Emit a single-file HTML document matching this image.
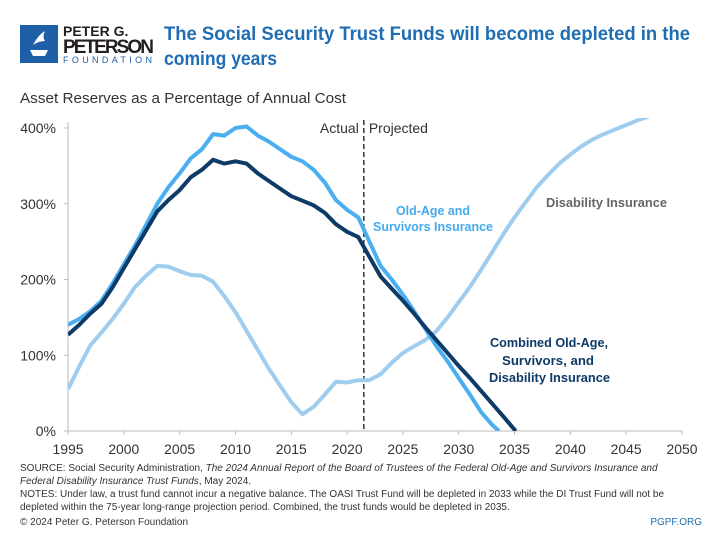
<!DOCTYPE html>
<html><head><meta charset="utf-8"><style>
body{margin:0;background:#fff;font-family:"Liberation Sans",sans-serif;}
#wrap{position:relative;width:720px;height:540px;overflow:hidden;}
</style></head><body>
<div id="wrap">
<svg width="720" height="540" viewBox="0 0 720 540">
  <g>
    <rect x="20" y="25" width="38" height="38" fill="#1f5fa8"/>
    <path d="M30 50 h18 l-3 6 h-12 z M33 45 q5 -10 12 -14 q-3 6 0 10 q-6 0 -12 4z" fill="#fff"/>
    <text x="63" y="36" font-size="14" font-weight="bold" fill="#231f20">PETER G.</text>
    <text x="63" y="53" font-size="19" font-weight="bold" fill="#231f20" textLength="91">PETERSON</text>
    <text x="63" y="63" font-size="9" fill="#1f5fa8" textLength="91" letter-spacing="2">FOUNDATION</text>
  </g>
  <text x="164" y="40" font-size="19" font-weight="bold" fill="#1f6db3" textLength="526" lengthAdjust="spacingAndGlyphs">The Social Security Trust Funds will become depleted in the</text>
  <text x="164" y="65" font-size="19" font-weight="bold" fill="#1f6db3" textLength="113" lengthAdjust="spacingAndGlyphs">coming years</text>
  <text x="20" y="103" font-size="15" fill="#333" textLength="326" lengthAdjust="spacingAndGlyphs">Asset Reserves as a Percentage of Annual Cost</text>
  <g id="axes"></g>
  <g id="marks"></g>
  <text x="546" y="207" font-size="13" font-weight="bold" fill="#666" textLength="121" lengthAdjust="spacingAndGlyphs">Disability Insurance</text>
  <text x="396" y="215" font-size="13" font-weight="bold" fill="#44aaee" textLength="74" lengthAdjust="spacingAndGlyphs">Old-Age and</text>
  <text x="373" y="231" font-size="13" font-weight="bold" fill="#44aaee" textLength="120" lengthAdjust="spacingAndGlyphs">Survivors Insurance</text>
  <text x="490" y="347" font-size="13" font-weight="bold" fill="#0d3a66" textLength="118" lengthAdjust="spacingAndGlyphs">Combined Old-Age,</text>
  <text x="502" y="365" font-size="13" font-weight="bold" fill="#0d3a66" textLength="92" lengthAdjust="spacingAndGlyphs">Survivors, and</text>
  <text x="489" y="382" font-size="13" font-weight="bold" fill="#0d3a66" textLength="121" lengthAdjust="spacingAndGlyphs">Disability Insurance</text>
  <text x="20" y="471" font-size="10" fill="#333">SOURCE: Social Security Administration, <tspan font-style="italic">The 2024 Annual Report of the Board of Trustees of the Federal Old-Age and Survivors Insurance and</tspan></text>
  <text x="20" y="484" font-size="10" fill="#333"><tspan font-style="italic">Federal Disability Insurance Trust Funds</tspan>, May 2024.</text>
  <text x="20" y="497" font-size="10" fill="#333">NOTES: Under law, a trust fund cannot incur a negative balance. The OASI Trust Fund will be depleted in 2033 while the DI Trust Fund will not be</text>
  <text x="20" y="510" font-size="10" fill="#333">depleted within the 75-year long-range projection period. Combined, the trust funds would be depleted in 2035.</text>
  <text x="20" y="525" font-size="10" fill="#333">© 2024 Peter G. Peterson Foundation</text>
  <text x="702" y="525" font-size="10" fill="#1f6db3" text-anchor="end">PGPF.ORG</text>
</svg>
</div>
<script>
const xTicks=[1995,2000,2005,2010,2015,2020,2025,2030,2035,2040,2045,2050];
const yTicks=[0,100,200,300,400];
const oasiYears=[1995,1996,1997,1998,1999,2000,2001,2002,2003,2004,2005,2006,2007,2008,2009,2010,2011,2012,2013,2014,2015,2016,2017,2018,2019,2020,2021,2022,2023,2024,2025,2026,2027,2028,2029,2030,2031,2032,2033,2033.6];
const oasiVals=[140,148,158,172,195,220,245,272,300,322,340,360,372,392,390,400,402,390,382,372,362,356,345,328,305,292,282,250,218,200,180,158,135,112,92,70,48,25,8,0];
const combYears=[1995,1996,1997,1998,1999,2000,2001,2002,2003,2004,2005,2006,2007,2008,2009,2010,2011,2012,2013,2014,2015,2016,2017,2018,2019,2020,2021,2022,2023,2024,2025,2026,2027,2028,2029,2030,2031,2032,2033,2034,2035.1];
const combVals=[127,140,155,168,190,215,240,265,290,305,318,335,345,358,353,356,353,340,330,320,310,304,298,288,273,263,256,230,204,188,172,155,137,120,103,86,70,53,36,19,0];
const diYears=[1995,1996,1997,1998,1999,2000,2001,2002,2003,2004,2005,2006,2007,2008,2009,2010,2011,2012,2013,2014,2015,2016,2017,2018,2019,2020,2021,2022,2023,2024,2025,2026,2027,2028,2029,2030,2031,2032,2033,2034,2035,2036,2037,2038,2039,2040,2041,2042,2043,2044,2045,2046,2047];
const diVals=[55,85,113,130,148,168,190,205,218,217,211,206,205,197,178,157,132,107,82,60,38,22,32,48,65,64,67,67,75,90,103,112,120,132,150,170,190,213,236,260,282,302,322,338,353,365,376,385,392,398,404,410,415];
const X0=68,X1=682,Y0=431,Y1=128;
const x=v=>X0+(v-1995)/(2050-1995)*(X1-X0);
const y=v=>Y0-(v/400)*(Y0-Y1);
const NS="http://www.w3.org/2000/svg";
const axes=document.getElementById('axes'),marks=document.getElementById('marks');
function mk(tag,attrs,parent){const e=document.createElementNS(NS,tag);for(const k in attrs)e.setAttribute(k,attrs[k]);parent.appendChild(e);return e;}
let l=mk('line',{x1:X0,y1:Y0,x2:X1,y2:Y0,stroke:'#bbb','stroke-width':1},axes);


l=mk('line',{x1:X0,y1:Y0,x2:X0,y2:122,stroke:'#bbb','stroke-width':1},axes);


xTicks.forEach(t=>{
  mk('line',{x1:x(t),y1:Y0,x2:x(t),y2:Y0+4,stroke:'#bbb'},axes);
  const tx=mk('text',{x:x(t),y:Y0+23,'font-size':14,fill:'#333','text-anchor':'middle',textLength:31,lengthAdjust:'spacingAndGlyphs'},axes);
  tx.textContent=t;
  
  
});
yTicks.forEach(t=>{
  mk('line',{x1:X0-4,y1:y(t),x2:X0,y2:y(t),stroke:'#bbb'},axes);
  const tx=mk('text',{x:X0-12,y:y(t)+5,'font-size':14,fill:'#333','text-anchor':'end'},axes);
  tx.textContent=t+'%';
  
  
});
const dl=mk('line',{x1:x(2021.5),y1:120,x2:x(2021.5),y2:Y0,stroke:'#333','stroke-width':1.5,'stroke-dasharray':'5,3'},axes);


let t1=mk('text',{x:x(2021.5)-5,y:133,'font-size':14,fill:'#333','text-anchor':'end'},axes);t1.textContent='Actual';


let t2=mk('text',{x:x(2021.5)+5,y:133,'font-size':14,fill:'#333'},axes);t2.textContent='Projected';


mk('clipPath',{id:'clp'},marks);
mk('rect',{x:X0,y:118,width:X1-X0,height:Y0-118},document.getElementById('clp'));
function line(ys,vs,color,name){
  const d=ys.map((yr,i)=>(i?'L':'M')+x(yr).toFixed(1)+' '+y(vs[i]).toFixed(1)).join(' ');
  const p=mk('path',{d:d,fill:'none',stroke:color,'stroke-width':4,'stroke-linejoin':'round','clip-path':'url(#clp)'},marks);
  
  
}
line(diYears,diVals,'#9fcdef','di-line');
line(oasiYears,oasiVals,'#4aaef0','oasi-line');
line(combYears,combVals,'#0d3a66','combined-line');
</script>
</body></html>
